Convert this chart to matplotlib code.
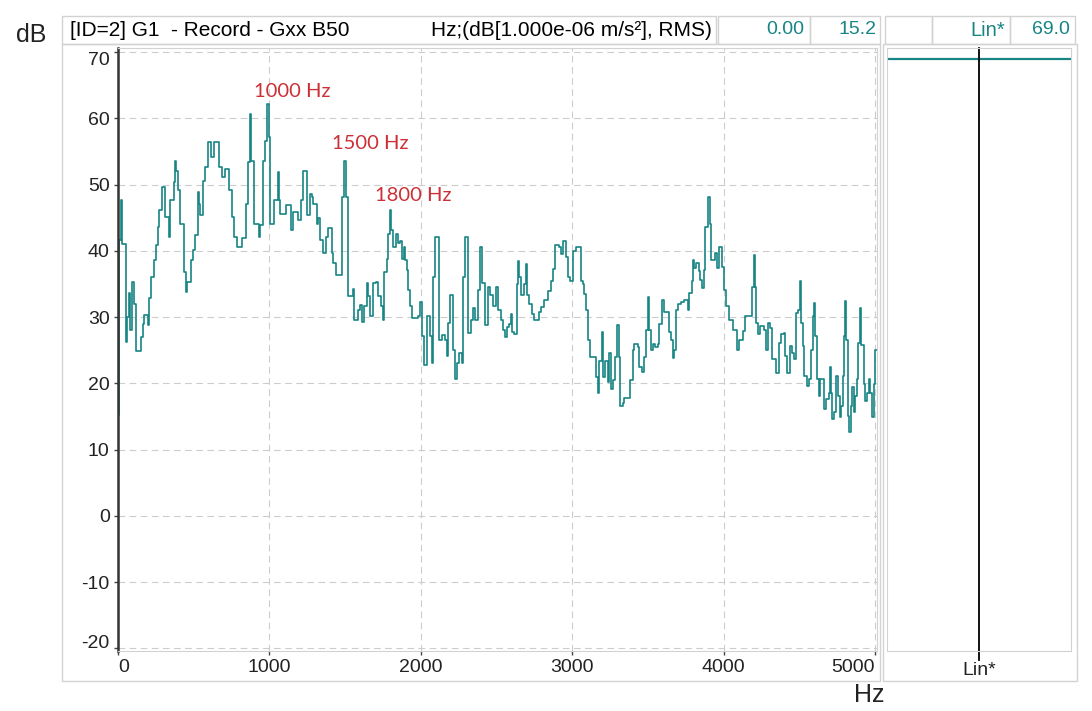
import matplotlib
matplotlib.use('Agg')
import matplotlib.pyplot as plt
from matplotlib.patches import Rectangle

plt.rcParams['axes.unicode_minus'] = False

# spectrum (step plot, Hz -> dB)
freq_hz = [0, 7, 20, 26, 51, 62, 73, 80, 95, 106, 120, 151, 162, 173, 195, 202, 217, 235, 251, 262,
           273, 288, 310, 339, 346, 368, 379, 384, 399, 412, 435, 448, 457, 479, 494, 506, 528, 535, 544, 561,
           572, 594, 616, 635, 670, 686, 705, 732, 754, 767, 785, 820, 844, 860, 873, 880, 900, 931, 940, 960,
           973, 984, 1000, 1007, 1033, 1055, 1062, 1069, 1109, 1144, 1153, 1189, 1206, 1220, 1250,
           1268, 1279, 1290, 1312, 1323, 1334, 1356, 1371, 1385, 1411, 1422, 1437, 1477, 1495, 1505, 1517,
           1550, 1561, 1587, 1598, 1609, 1627, 1642, 1653, 1664, 1686, 1704, 1719, 1737, 1748, 1759, 1774,
           1785, 1796, 1803, 1818, 1833, 1847, 1862, 1873, 1886, 1895, 1906, 1917, 1928, 1939, 1983, 1994,
           2005, 2023, 2038, 2060, 2071, 2082, 2093, 2122, 2137, 2159, 2170, 2181, 2194, 2214, 2225, 2236,
           2251, 2269, 2280, 2291, 2313, 2331, 2346, 2361, 2379, 2392, 2405, 2423, 2441, 2456, 2478, 2497,
           2508, 2530, 2541, 2556, 2567, 2581, 2596, 2603, 2618, 2633, 2642, 2651, 2662, 2684, 2693, 2699,
           2717, 2735, 2750, 2779, 2794, 2816, 2838, 2860, 2871, 2889, 2915, 2926, 2937, 2959, 2970, 2985,
           3003, 3025, 3058, 3074, 3080, 3091, 3102, 3118, 3157, 3168, 3179, 3197, 3206, 3219, 3235, 3246,
           3257, 3268, 3285, 3294, 3307, 3316, 3333, 3344, 3382, 3399, 3410, 3432, 3443, 3461, 3476, 3487,
           3498, 3509, 3520, 3531, 3549, 3564, 3575, 3593, 3608, 3637, 3652, 3663, 3674, 3685, 3696, 3718,
           3740, 3762, 3773, 3791, 3798, 3806, 3820, 3835, 3846, 3857, 3868, 3879, 3894, 3908, 3916, 3945,
           3956, 3967, 3989, 4004, 4018, 4033, 4062, 4088, 4099, 4128, 4143, 4187, 4198, 4207, 4214, 4225,
           4238, 4269, 4282, 4291, 4308, 4319, 4348, 4363, 4379, 4396, 4407, 4418, 4436, 4451, 4467, 4480,
           4491, 4502, 4513, 4524, 4533, 4550, 4561, 4577, 4590, 4599, 4605, 4616, 4627, 4638, 4665, 4678,
           4694, 4700, 4709, 4718, 4731, 4744, 4753, 4766, 4775, 4788, 4797, 4804, 4810, 4819, 4830, 4841,
           4850, 4859, 4870, 4881, 4890, 4898, 4907, 4925, 4936, 4947, 4958, 4969, 4980, 4991, 5002, 5010]
level_db = [15.2, 41.6, 47.6, 41.0, 26.3, 30.0, 33.6, 28.0, 35.3, 32.0, 24.8, 27.0, 29.0, 30.3, 28.8, 32.8, 36.0, 38.6, 40.9, 43.6,
            46.1, 49.6, 45.1, 42.1, 47.6, 50.4, 53.6, 52.1, 49.1, 44.1, 36.8, 33.8, 35.3, 38.6, 40.1, 42.4, 48.9, 47.1, 45.4, 50.6,
            52.6, 56.4, 54.1, 56.4, 52.6, 51.1, 52.3, 49.1, 45.1, 42.1, 40.6, 41.9, 47.1, 53.4, 60.7, 53.6, 44.1, 42.1, 43.9, 53.6,
            56.6, 62.2, 57.1, 44.1, 47.6, 51.9, 47.6, 45.6, 46.9, 43.1, 45.9, 44.6, 47.6, 52.1, 45.4,
            48.6, 48.1, 47.1, 44.1, 44.9, 41.6, 39.6, 42.1, 43.5, 39.6, 38.1, 36.3, 48.1, 53.6, 48.1, 33.1,
            34.3, 29.6, 31.1, 31.8, 29.3, 31.6, 35.1, 33.1, 30.1, 35.1, 35.3, 33.1, 31.6, 29.6, 36.8, 38.8,
            42.6, 46.1, 43.1, 40.6, 42.6, 41.1, 41.4, 38.8, 40.6, 38.6, 37.1, 34.1, 31.6, 29.8, 30.1, 32.3,
            27.1, 22.8, 30.1, 27.1, 23.1, 36.1, 42.1, 26.6, 27.3, 26.6, 24.1, 29.1, 33.3, 25.1, 20.6, 23.1,
            24.6, 23.1, 36.1, 42.1, 27.6, 29.6, 31.3, 29.6, 34.1, 40.6, 35.1, 28.8, 34.6, 33.3, 31.6, 34.5,
            31.0, 29.5, 28.0, 27.0, 28.5, 29.0, 30.5, 27.7, 27.5, 35.0, 38.5, 36.0, 33.3, 35.0, 38.0, 33.3,
            32.0, 30.5, 29.5, 30.8, 31.5, 32.5, 34.0, 35.5, 37.3, 40.8, 40.5, 39.5, 41.5, 39.0, 36.0, 35.5,
            40.0, 40.5, 35.5, 35.0, 33.5, 31.0, 26.5, 24.0, 21.0, 18.5, 23.3, 27.7, 21.0, 23.3, 20.2, 24.5,
            19.2, 20.5, 24.0, 28.8, 24.0, 16.5, 17.0, 17.8, 20.5, 25.0, 26.0, 25.5, 22.5, 21.7, 24.0, 28.0,
            33.0, 28.0, 25.0, 26.0, 25.5, 26.0, 29.0, 32.5, 30.8, 27.7, 26.5, 23.8, 25.0, 31.0, 32.0, 32.3,
            32.5, 31.0, 33.6, 35.4, 38.6, 37.4, 38.1, 36.9, 35.6, 34.4, 37.1, 43.6, 48.1, 44.1, 38.6, 39.6,
            37.4, 40.6, 37.6, 34.1, 31.6, 29.6, 28.1, 25.1, 26.6, 27.9, 30.1, 34.6, 39.4, 34.6, 29.1, 27.4,
            28.6, 28.1, 25.1, 29.1, 28.4, 23.6, 21.6, 26.1, 27.4, 27.6, 24.1, 21.6, 25.6, 24.6, 23.6, 30.6,
            31.1, 35.4, 29.1, 25.6, 21.1, 19.6, 20.6, 25.1, 30.1, 32.1, 27.1, 20.6, 18.1, 20.6, 16.1, 17.6,
            18.6, 22.4, 18.6, 14.6, 15.6, 21.1, 18.1, 14.9, 16.6, 21.1, 27.1, 32.4, 26.6, 15.1, 12.6, 16.6,
            19.4, 15.6, 18.1, 20.6, 26.1, 31.4, 25.8, 19.9, 17.4, 18.6, 20.6, 18.6, 14.9, 19.9, 25.1, 25.1]

y_ticks = [-20, -10, 0, 10, 20, 30, 40, 50, 60, 70]
x_ticks = [0, 1000, 2000, 3000, 4000, 5000]
peak_labels = ['1000 Hz', '1500 Hz', '1800 Hz']
peak_label_pos = [(1150, 64.1), (1665, 56.2), (1950, 48.4)]
overall_level = 69.0
cursor_x, cursor_y = '0.00', '15.2'

W, H = 1092, 711
TEAL = '#178584'
GRAY = '#d2d2d2'
TICK_FONT = ['Liberation Sans', 'DejaVu Sans']
NARROW = ['Liberation Sans Narrow', 'Liberation Sans', 'DejaVu Sans']

fig = plt.figure(figsize=(W / 100, H / 100), dpi=100)


def fx(px):
    return px / W


def fy(py):
    return 1 - py / H


def box(x0, y0, x1, y1, ec=GRAY):
    fig.patches.append(Rectangle((fx(x0), fy(y1)), fx(x1) - fx(x0), fy(y0) - fy(y1),
                                 transform=fig.transFigure, fill=False, ec=ec, lw=1.0))


# frames and header cells
box(62, 16, 716, 44)
box(718, 16, 810, 44)
box(810, 16, 880, 44)
box(885, 16, 932, 44)
box(932, 16, 1010, 44)
box(1010, 16, 1075, 44)
box(62, 44, 880, 681)
box(883, 44, 1077, 681)

fig.text(fx(70), fy(30), '[ID=2] G1  - Record - Gxx B50', family=TICK_FONT, fontsize=15, va='center')
fig.text(fx(712), fy(30), 'Hz;(dB[1.000e-06 m/s²], RMS)', family=TICK_FONT, fontsize=15,
         va='center', ha='right')
fig.text(fx(804), fy(30), cursor_x, family=TICK_FONT, fontsize=14, va='center', ha='right', color=TEAL)
fig.text(fx(877), fy(30), cursor_y, family=TICK_FONT, fontsize=14, va='center', ha='right', color=TEAL)
fig.text(fx(1005), fy(30), 'Lin*', family=TICK_FONT, fontsize=14.5, va='center', ha='right', color=TEAL)
fig.text(fx(1070), fy(30), f'{overall_level:.1f}', family=TICK_FONT, fontsize=14, va='center',
         ha='right', color=TEAL)
fig.text(fx(31), fy(35), 'dB', family=NARROW, fontsize=18, va='center', ha='center', color='#222222')
fig.text(fx(869), fy(695), 'Hz', family=NARROW, fontsize=18, va='center', ha='center', color='#222222')

# main spectrum axes
ax = fig.add_axes([fx(118), fy(651), fx(877) - fx(118), fy(48) - fy(651)])
ax.step(freq_hz, level_db, where='post', color=TEAL, lw=1.2)
ax.set_xlim(0, 5013)
ax.set_ylim(-20.4, 70.6)
ax.set_xticks(x_ticks)
ax.set_yticks(y_ticks)
ax.grid(True, color='#cccccc', linestyle=(0, (6, 4)), lw=0.8)
for s in ['top', 'right', 'bottom']:
    ax.spines[s].set_color(GRAY)
ax.spines['left'].set_color('#333333')
ax.spines['left'].set_linewidth(1.8)
ax.tick_params(length=3, width=1, color='#444444', pad=3, labelsize=14)
for lab in ax.get_xticklabels() + ax.get_yticklabels():
    lab.set_family(TICK_FONT)
    lab.set_color('#222222')
xl = ax.get_xticklabels()
xl[0].set_ha('left')
xl[-1].set_ha('right')
yl = ax.get_yticklabels()
yl[0].set_va('baseline')
yl[-1].set_va('top')

for text, (px, py) in zip(peak_labels, peak_label_pos):
    ax.text(px, py, text, color='#cc2f36', fontsize=14.5, ha='center', va='center',
            family=['Lato', 'Open Sans', 'DejaVu Sans'])

# overall level panel
ax2 = fig.add_axes([fx(887), fy(651), fx(1071) - fx(887), fy(48) - fy(651)])
ax2.set_xlim(-1, 1)
ax2.set_ylim(-20.4, 70.6)
ax2.axhline(overall_level, color=TEAL, lw=1.6)
ax2.plot([0, 0], [-21.8, 70.6], color='black', lw=1.3, clip_on=False)
ax2.set_yticks([])
ax2.set_xticks([0])
ax2.set_xticklabels(['Lin*'], family=TICK_FONT, fontsize=14, color='#222222')
ax2.tick_params(length=0, pad=8)
for s in ax2.spines.values():
    s.set_color(GRAY)

fig.savefig('out.png', dpi=100)
